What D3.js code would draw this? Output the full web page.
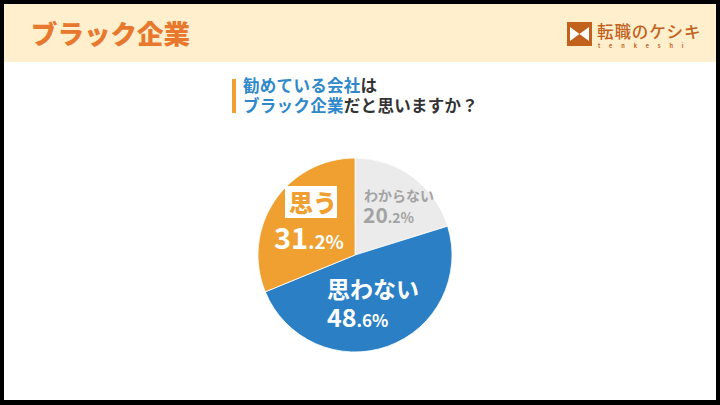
<!DOCTYPE html>
<html><head><meta charset="utf-8">
<script src="https://cdn.jsdelivr.net/npm/d3@7"></script>
<style>
html,body{margin:0;padding:0;background:#000;}
svg{display:block;}
text{font-family:"Noto Sans CJK JP","Noto Sans",sans-serif;}
</style></head>
<body>
<svg id="chart" width="720" height="405"></svg>
<script>
const categories = ["わからない", "思わない", "思う"];
const values = [20.2, 48.6, 31.2];
const colors = ["#EBEBEB", "#2B80C5", "#F0A030"];
const titleText = "ブラック企業";
const questionLine1 = [["勧めている会社", "#2E88C9"], ["は", "#333333"]];
const questionLine2 = [["ブラック企業", "#2E88C9"], ["だと思いますか？", "#333333"]];

const svg = d3.select("#chart");
// frame
svg.append("rect").attr("x",0).attr("y",0).attr("width",720).attr("height",405).attr("fill","#000");
svg.append("rect").attr("x",4).attr("y",4).attr("width",712).attr("height",396).attr("fill","#fff");
svg.append("rect").attr("x",4).attr("y",4).attr("width",712).attr("height",58).attr("fill","#FFEFCC");

// title
svg.append("text").attr("x",31).attr("y",44).attr("font-size",26.5).attr("font-weight",900)
  .attr("fill","#E8782E").text(titleText);

// logo
const lg = svg.append("g");
lg.append("rect").attr("x",567).attr("y",22).attr("width",25).attr("height",24).attr("fill","#C2611C");
lg.append("path").attr("d","M570,27 L579.5,34 L570,41 Z M589,27 L579.5,34 L589,41 Z").attr("fill","#fff");
lg.append("text").attr("x",597).attr("y",37.5).attr("font-size",16.5).attr("fill","#C2611C").attr("font-weight",500)
  .attr("letter-spacing","0.9px").text("転職のケシキ");
lg.append("text").attr("x",598).attr("y",48).attr("font-size",5.5).attr("fill","#C2611C").attr("font-weight",700)
  .attr("letter-spacing","8.9px").text("tenkeshi");

// question
svg.append("rect").attr("x",232).attr("y",79).attr("width",4).attr("height",34).attr("fill","#F0A030");
function richLine(y, parts){
  const t = svg.append("text").attr("x",243).attr("y",y).attr("font-size",16.5).attr("font-weight",700)
    .attr("letter-spacing","0.3px");
  parts.forEach(p => t.append("tspan").attr("fill",p[1]).text(p[0]));
}
richLine(91.5, questionLine1);
richLine(112, questionLine2);

// pie
const cx = 355, cy = 255, r = 97;
const pie = d3.pie().sort(null).value(d => d)(values);
const arc = d3.arc().innerRadius(0).outerRadius(r);
const pg = svg.append("g").attr("transform",`translate(${cx},${cy})`);
pg.selectAll("path").data(pie).join("path")
  .attr("d",arc).attr("fill",(d,i)=>colors[i]).attr("stroke","#fff").attr("stroke-width",0.8);

function pct(g, x, y, v, bigSize, smallSize, color){
  const s = v.toFixed(1).split(".");
  const t = g.append("text").attr("x",x).attr("y",y).attr("font-weight",700).attr("fill",color);
  t.append("tspan").attr("font-size",bigSize).text(s[0]);
  t.append("tspan").attr("font-size",smallSize).text("." + s[1] + "%");
}
const lab = svg.append("g");
// わからない
lab.append("text").attr("x",364).attr("y",201).attr("font-size",14).attr("font-weight",700)
  .attr("fill","#A3A3A3").text(categories[0]);
pct(lab, 363, 223, values[0], 21, 14, "#A3A3A3");
// 思わない
lab.append("text").attr("x",327).attr("y",298).attr("font-size",23).attr("font-weight",700)
  .attr("fill","#fff").text(categories[1]);
pct(lab, 327, 327, values[1], 25, 17, "#fff");
// 思う
lab.append("rect").attr("x",285).attr("y",186).attr("width",52).attr("height",32).attr("fill","#fff");
lab.append("text").attr("x",289).attr("y",212).attr("font-size",24).attr("font-weight",900)
  .attr("fill","#F0A030").text(categories[2]);
pct(lab, 274, 249, values[2], 29, 19, "#fff");
</script>
</body></html>
